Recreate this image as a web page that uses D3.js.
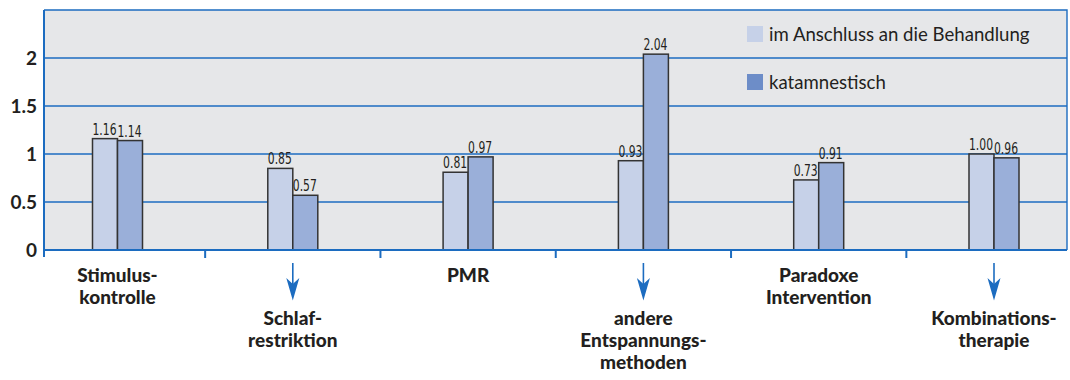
<!DOCTYPE html>
<html>
<head>
<meta charset="utf-8">
<script src="https://cdn.jsdelivr.net/npm/d3@7"></script>
<style>
  html, body { margin: 0; padding: 0; background: #ffffff; }
  svg { display: block; }
</style>
</head>
<body>
<svg id="chart" width="1070" height="380"></svg>
<script>
// Categories (each as label lines) and whether the label hangs below an arrow
const categoryLines = [
  ["Stimulus-", "kontrolle"],
  ["Schlaf-", "restriktion"],
  ["PMR"],
  ["andere", "Entspannungs-", "methoden"],
  ["Paradoxe", "Intervention"],
  ["Kombinations-", "therapie"]
];
const categoryArrow = [false, true, false, true, false, true];

// Series values
const seriesNames = ["im Anschluss an die Behandlung", "katamnestisch"];
const afterTreatment = [1.16, 0.85, 0.81, 0.93, 0.73, 1.00];
const followUp = [1.14, 0.57, 0.97, 2.04, 0.91, 0.96];

// Y-axis ticks
const yTicks = [0, 0.5, 1, 1.5, 2];
const yTickLabels = ["0", "0.5", "1", "1.5", "2"];

const svg = d3.select("#chart");
const plot = { left: 44, right: 1067, top: 10, bottom: 250 };
const blue = "#1c6cc0";
const ink = "#231f20";
const barFill = ["#c6d1e8", "#9aafd9"];
const swatchFill = ["#c6d1e8", "#6d8dc8"];
const fontMain = "Lato, 'Open Sans', sans-serif";
const fontNum = "'DejaVu Sans Condensed', 'DejaVu Sans', sans-serif";

const cats = categoryLines.map(d => d.join(" "));
const x = d3.scalePoint().domain(cats).range([117.5, 994]);
const y = d3.scaleLinear().domain([0, 2.5]).range([plot.bottom, plot.top]);
const barW = 25;

// Plot background
svg.append("rect")
  .attr("x", plot.left).attr("y", plot.top)
  .attr("width", plot.right - plot.left).attr("height", plot.bottom - plot.top)
  .attr("fill", "#e6e7e9");

// Horizontal grid lines
svg.append("g").selectAll("line").data(yTicks.filter(v => v > 0)).join("line")
  .attr("x1", plot.left).attr("x2", plot.right)
  .attr("y1", d => y(d)).attr("y2", d => y(d))
  .attr("stroke", blue).attr("stroke-width", 1.4);

// Frame top and right
svg.append("path")
  .attr("d", `M${plot.left},${plot.top}H${plot.right}V${plot.bottom}`)
  .attr("fill", "none").attr("stroke", blue).attr("stroke-width", 1.4);

// Bars with value labels (narrow digits, left-aligned on the bar)
const series = [afterTreatment, followUp];
series.forEach((vals, s) => {
  const g = svg.append("g");
  g.selectAll("rect").data(vals).join("rect")
    .attr("x", (d, i) => x(cats[i]) - barW + s * barW)
    .attr("y", d => y(d))
    .attr("width", barW)
    .attr("height", d => y(0) - y(d))
    .attr("fill", barFill[s])
    .attr("stroke", "#333333").attr("stroke-width", 1.5);
  g.selectAll("text").data(vals).join("text")
    .attr("transform", (d, i) =>
      `translate(${x(cats[i]) - barW + s * barW},${y(d) - 4}) scale(0.8,1)`)
    .attr("font-family", fontNum).attr("font-stretch", "condensed")
    .attr("font-size", 15)
    .attr("fill", ink)
    .text(d => d.toFixed(2));
});

// X axis line and category separators
const seps = cats.slice(0, -1).map((c, i) => (x(c) + x(cats[i + 1])) / 2);
svg.append("line")
  .attr("x1", plot.left).attr("x2", plot.right)
  .attr("y1", plot.bottom).attr("y2", plot.bottom)
  .attr("stroke", blue).attr("stroke-width", 2);
svg.append("g").selectAll("line").data(seps).join("line")
  .attr("x1", d => d).attr("x2", d => d)
  .attr("y1", plot.bottom).attr("y2", plot.bottom + 8)
  .attr("stroke", blue).attr("stroke-width", 2);
svg.append("line")
  .attr("x1", plot.left).attr("x2", plot.left)
  .attr("y1", plot.top).attr("y2", plot.bottom + 7)
  .attr("stroke", blue).attr("stroke-width", 2);

// Y tick labels
svg.append("g").selectAll("text").data(yTicks).join("text")
  .attr("x", 37).attr("y", d => y(d))
  .attr("dy", "0.36em")
  .attr("text-anchor", "end")
  .attr("font-family", fontMain).attr("font-weight", "bold").attr("font-size", 19)
  .attr("fill", ink)
  .text((d, i) => yTickLabels[i]);

// Arrows pointing to the lowered labels
const arrowG = svg.append("g");
cats.forEach((c, i) => {
  if (!categoryArrow[i]) return;
  const cx = x(c);
  arrowG.append("line")
    .attr("x1", cx).attr("x2", cx).attr("y1", 263).attr("y2", 286)
    .attr("stroke", blue).attr("stroke-width", 1.6);
  arrowG.append("path")
    .attr("d", `M${cx},300.5 L${cx - 6.5},278 L${cx},284 L${cx + 6.5},278 Z`)
    .attr("fill", blue);
});

// Category labels
const labelG = svg.append("g");
cats.forEach((c, i) => {
  const base = categoryArrow[i] ? 325 : 282;
  const t = labelG.append("text")
    .attr("text-anchor", "middle")
    .attr("font-family", fontMain).attr("font-weight", 900).attr("font-size", 19)
    .attr("fill", ink);
  categoryLines[i].forEach((line, k) => {
    t.append("tspan").attr("x", x(c)).attr("y", base + k * 22).text(line);
  });
});

// Legend
const legend = svg.append("g");
seriesNames.forEach((name, s) => {
  const ly = 34 + s * 48;
  legend.append("rect")
    .attr("x", 747).attr("y", ly - 8).attr("width", 16).attr("height", 16)
    .attr("fill", swatchFill[s]);
  legend.append("text")
    .attr("x", 769).attr("y", ly).attr("dy", "0.35em")
    .attr("font-family", fontMain).attr("font-size", 18.6)
    .attr("fill", ink)
    .text(name);
});
</script>
</body>
</html>
